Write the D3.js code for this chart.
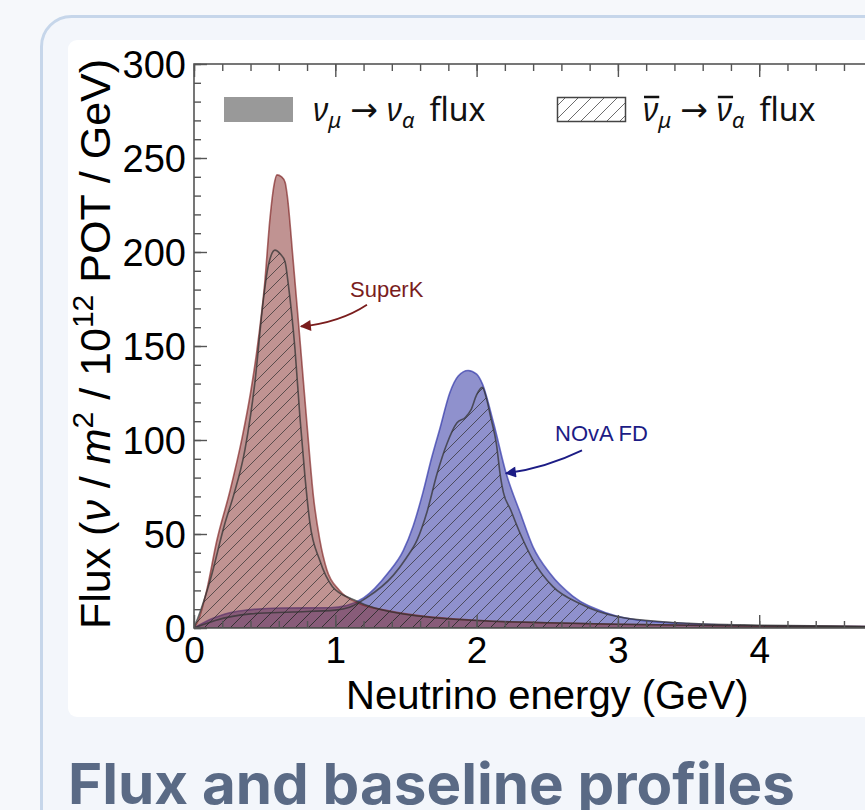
<!DOCTYPE html>
<html>
<head>
<script src="https://cdn.jsdelivr.net/npm/d3@7"></script>
<style>
  body { margin: 0; background: #f6f8fb; }
  svg { display: block; }
</style>
</head>
<body>
<svg id="flux-chart" width="865" height="810"></svg>
<script>
// SuperK nu_mu -> nu_alpha (solid red)
var skNuE = [0, 0.03, 0.09, 0.16, 0.255, 0.34, 0.40, 0.446, 0.5, 0.538, 0.565, 0.587, 0.62, 0.645, 0.66, 0.70, 0.75, 0.80, 0.845, 0.89, 0.94, 1.03, 1.17, 1.35, 1.55, 2.02, 2.5, 3.0, 3.5, 4.0, 4.5, 5.0];
var skNuF = [0, 4, 20, 46, 73, 101, 125, 148, 183, 218, 235, 241, 240, 237, 230, 197, 153, 108, 70, 47, 31, 20, 13, 9.5, 7, 4, 2.8, 2, 1.5, 1.1, 0.9, 0.7];
// SuperK anti-nu (hatched)
var skBarE = [0, 0.05, 0.113, 0.22, 0.278, 0.361, 0.43, 0.49, 0.519, 0.545, 0.573, 0.61, 0.644, 0.667, 0.715, 0.75, 0.786, 0.82, 0.89, 0.98, 1.13, 1.44, 2.0, 2.5, 3.0, 3.5, 4.0, 4.5, 5.0];
var skBarF = [0, 10, 25, 56, 70, 95, 130, 174, 190, 198, 201, 199, 195, 183, 148, 112, 80, 56, 36, 22, 15, 8, 4, 2.8, 2, 1.5, 1.1, 0.8, 0.6];
// NOvA FD nu_mu -> nu_alpha (solid blue)
var novaNuE = [0, 0.13, 0.22, 0.37, 0.61, 0.96, 1.08, 1.2, 1.37, 1.48, 1.55, 1.62, 1.68, 1.74, 1.81, 1.87, 1.94, 2.0, 2.04, 2.12, 2.21, 2.31, 2.4, 2.52, 2.68, 2.92, 3.23, 3.8, 4.4, 5.0];
var novaNuF = [0, 5, 7.5, 9.5, 10.6, 10.8, 12, 16, 29, 41, 54, 72, 90, 106, 125, 134, 137, 135, 130, 109, 82, 61, 43, 29, 17, 8, 3.5, 1.5, 0.9, 0.6];
// NOvA FD anti-nu (hatched)
var novaBarE = [0, 0.15, 0.4, 0.7, 1.0, 1.1, 1.22, 1.41, 1.5, 1.58, 1.65, 1.72, 1.79, 1.86, 1.92, 1.96, 2.0, 2.04, 2.07, 2.1, 2.14, 2.17, 2.19, 2.24, 2.31, 2.4, 2.54, 2.73, 3.0, 3.5, 4.0, 4.5, 5.0];
var novaBarF = [0, 4, 7.5, 8.5, 9.5, 11, 16, 28, 37, 47, 62, 82, 98, 109, 112, 116, 124, 128, 122, 112, 98, 80, 72, 63, 50, 36, 22, 13, 6, 2.5, 1.5, 1, 0.6];

var xTicks = [0, 1, 2, 3, 4, 5];
var yTicks = [0, 50, 100, 150, 200, 250, 300];

// annotations: label position, arrow start, control, tip (data units)
var annotations = [
  {text: "SuperK", color: "#7a1d1d", label: [1.104, 176.3], from: [1.224, 172], ctrl: [1.033, 162.5], to: [0.757, 160.4]},
  {text: "NOvA FD", color: "#1c1c85", label: [2.555, 99.3], from: [2.746, 94.5], ctrl: [2.484, 85], to: [2.208, 82.3]}
];

var svg = d3.select("#flux-chart");
var defs = svg.append("defs");

// card background
svg.append("rect")
  .attr("x", 41.5).attr("y", 16.5).attr("width", 900).attr("height", 900)
  .attr("rx", 30)
  .attr("fill", "#f3f6fb").attr("stroke", "#c6d6ea").attr("stroke-width", 3);
svg.append("rect")
  .attr("x", 68).attr("y", 40).attr("width", 860).attr("height", 677)
  .attr("rx", 9).attr("fill", "#ffffff");

svg.append("text")
  .attr("x", 68).attr("y", 804)
  .attr("font-family", "Inter, Roboto, sans-serif")
  .attr("font-weight", 700)
  .attr("font-size", 56)
  .attr("fill", "#5a6a85")
  .attr("textLength", 727).attr("lengthAdjust", "spacingAndGlyphs")
  .text("Flux and baseline profiles");

var x = d3.scaleLinear().domain([0, 5]).range([194, 900.5]);
var y = d3.scaleLinear().domain([0, 300]).range([628, 64]);

defs.append("clipPath").attr("id", "plot-clip")
  .append("rect")
  .attr("x", x(0)).attr("y", y(300))
  .attr("width", x(5) - x(0)).attr("height", y(0) - y(300));

var hatch = defs.append("pattern")
  .attr("id", "hatch")
  .attr("patternUnits", "userSpaceOnUse")
  .attr("width", 13).attr("height", 13);
hatch.append("path")
  .attr("d", "M-2,2 L2,-2 M0,13 L13,0 M11,15 L15,11")
  .attr("stroke", "#2e2e2e").attr("stroke-width", 1).attr("stroke-opacity", 0.7);

var area = d3.area()
  .x(function(d){ return x(d[0]); })
  .y0(y(0))
  .y1(function(d){ return y(d[1]); })
  .curve(d3.curveMonotoneX);

function pairs(e, f){ return e.map(function(v, i){ return [v, f[i]]; }); }

var plot = svg.append("g").attr("clip-path", "url(#plot-clip)");

plot.append("path")
  .attr("d", area(pairs(novaNuE, novaNuF)))
  .attr("fill", "rgb(40,45,160)").attr("fill-opacity", 0.52)
  .attr("stroke", "rgb(50,55,170)").attr("stroke-opacity", 0.7).attr("stroke-width", 1.6);
plot.append("path")
  .attr("d", area(pairs(skNuE, skNuF)))
  .attr("fill", "rgb(130,40,38)").attr("fill-opacity", 0.5)
  .attr("stroke", "rgb(125,30,30)").attr("stroke-opacity", 0.65).attr("stroke-width", 1.6);
plot.append("path")
  .attr("d", area(pairs(novaBarE, novaBarF)))
  .attr("fill", "url(#hatch)")
  .attr("stroke", "#333").attr("stroke-opacity", 0.75).attr("stroke-width", 1.6);
plot.append("path")
  .attr("d", area(pairs(skBarE, skBarF)))
  .attr("fill", "url(#hatch)")
  .attr("stroke", "#333").attr("stroke-opacity", 0.75).attr("stroke-width", 1.6);

// frame and ticks
var axisColor = "#555";
function styleAxis(g){
  g.select(".domain").remove();
  g.selectAll(".tick line").attr("stroke", axisColor).attr("stroke-width", 1.4);
  g.selectAll(".tick text").attr("fill", "#000").attr("font-family", "'Liberation Sans', Arial, sans-serif");
}
var yMinor = d3.range(0, 301, 10);
var xMinor = d3.range(0, 5.01, 0.2);

svg.append("g").attr("transform", "translate(" + x(0) + ",0)")
  .call(d3.axisLeft(y).tickValues(yMinor).tickSize(-7).tickFormat(""))
  .call(styleAxis);
svg.append("g").attr("transform", "translate(" + x(0) + ",0)")
  .call(d3.axisLeft(y).tickValues(yTicks).tickSize(-13).tickPadding(8).tickFormat(d3.format("d")))
  .call(styleAxis)
  .call(function(g){ g.selectAll(".tick text").attr("font-size", 38).attr("dy", "0.36em"); });
svg.append("g").attr("transform", "translate(" + x(5) + ",0)")
  .call(d3.axisRight(y).tickValues(yMinor).tickSize(-7).tickFormat(""))
  .call(styleAxis);

svg.append("g").attr("transform", "translate(0," + y(0) + ")")
  .call(d3.axisBottom(x).tickValues(xMinor).tickSize(-7).tickFormat(""))
  .call(styleAxis);
svg.append("g").attr("transform", "translate(0," + y(0) + ")")
  .call(d3.axisBottom(x).tickValues(xTicks.filter(function(v){ return x(v) < 865; }))
    .tickSize(-13).tickPadding(9).tickFormat(d3.format("d")))
  .call(styleAxis)
  .call(function(g){ g.selectAll(".tick text").attr("font-size", 37); });
svg.append("g").attr("transform", "translate(0," + y(300) + ")")
  .call(d3.axisTop(x).tickValues(xMinor).tickSize(-7).tickFormat(""))
  .call(styleAxis);
svg.append("g").attr("transform", "translate(0," + y(300) + ")")
  .call(d3.axisTop(x).tickValues(xTicks).tickSize(-13).tickFormat(""))
  .call(styleAxis);

svg.append("rect")
  .attr("x", x(0)).attr("y", y(300))
  .attr("width", x(5) - x(0)).attr("height", y(0) - y(300))
  .attr("fill", "none").attr("stroke", axisColor).attr("stroke-width", 1.6);

// axis titles
svg.append("text")
  .attr("x", (x(0) + x(5)) / 2).attr("y", 709)
  .attr("text-anchor", "middle")
  .attr("font-family", "'Liberation Sans', Arial, sans-serif")
  .attr("font-size", 40)
  .text("Neutrino energy (GeV)");

var yTitle = svg.append("text")
  .attr("transform", "translate(110," + ((y(0) + y(300)) / 2 - 2) + ") rotate(-90)")
  .attr("text-anchor", "middle")
  .attr("font-family", "'Liberation Sans', Arial, sans-serif")
  .attr("font-size", 43);
yTitle.append("tspan").text("Flux (");
yTitle.append("tspan").attr("font-style", "italic").text("ν");
yTitle.append("tspan").text(" / ");
yTitle.append("tspan").attr("font-style", "italic").text("m");
yTitle.append("tspan").attr("font-size", 30).attr("dy", -17).text("2");
yTitle.append("tspan").attr("dy", 17).text(" / 10");
yTitle.append("tspan").attr("font-size", 30).attr("dy", -17).text("12");
yTitle.append("tspan").attr("dy", 17).text(" POT / GeV)");

// legend
var legendFont = "'Noto Sans', 'Open Sans', sans-serif";
var legendItems = [
  {box: 224, text: 313, bar: false},
  {box: 557, text: 643, bar: true}
];
legendItems.forEach(function(item){
  var r = svg.append("rect")
    .attr("x", item.box).attr("y", 97).attr("width", 69).attr("height", 25);
  if (item.bar) {
    r.attr("x", item.box + 0.5).attr("y", 97.5).attr("width", 68).attr("height", 24)
      .attr("fill", "url(#hatch)").attr("stroke", "#444").attr("stroke-width", 1.5);
  } else {
    r.attr("fill", "#999999");
  }
  var t = svg.append("text")
    .attr("x", item.text).attr("y", 121)
    .attr("font-family", legendFont).attr("font-size", 32).attr("fill", "#111");
  t.append("tspan").attr("font-style", "italic").text("ν");
  t.append("tspan").attr("font-style", "italic").attr("font-size", 22).attr("dy", 7).text("μ");
  t.append("tspan").attr("dy", -7).attr("dx", 9)
    .attr("font-family", "'DejaVu Sans', sans-serif").attr("font-size", 33).text("→");
  t.append("tspan").attr("dx", 9).attr("font-style", "italic").text("ν");
  t.append("tspan").attr("font-style", "italic").attr("font-size", 22).attr("dy", 7).text("α");
  t.append("tspan").attr("dy", -7).attr("dx", 15).text("flux");
  if (item.bar) {
    var node = t.node();
    [0, 3].forEach(function(ci){
      var ext = node.getExtentOfChar(ci);
      svg.append("line")
        .attr("x1", ext.x + 1).attr("x2", ext.x + ext.width + 1)
        .attr("y1", 97).attr("y2", 97)
        .attr("stroke", "#111").attr("stroke-width", 2.5);
    });
  }
});

// annotations with curved arrows
annotations.forEach(function(a, i){
  var id = "arrow" + i;
  defs.append("marker")
    .attr("id", id)
    .attr("viewBox", "0 0 10 10").attr("refX", 9).attr("refY", 5)
    .attr("markerUnits", "userSpaceOnUse")
    .attr("markerWidth", 13).attr("markerHeight", 11)
    .attr("orient", "auto")
    .append("path").attr("d", "M0,0 L10,5 L0,10 z").attr("fill", a.color);
  var p = d3.path();
  p.moveTo(x(a.from[0]), y(a.from[1]));
  p.quadraticCurveTo(x(a.ctrl[0]), y(a.ctrl[1]), x(a.to[0]), y(a.to[1]));
  svg.append("path")
    .attr("d", p.toString())
    .attr("fill", "none").attr("stroke", a.color).attr("stroke-width", 1.8)
    .attr("marker-end", "url(#" + id + ")");
  svg.append("text")
    .attr("x", x(a.label[0])).attr("y", y(a.label[1]))
    .attr("font-family", "'Liberation Sans', Arial, sans-serif")
    .attr("font-size", 22).attr("fill", a.color)
    .text(a.text);
});
</script>
</body>
</html>
